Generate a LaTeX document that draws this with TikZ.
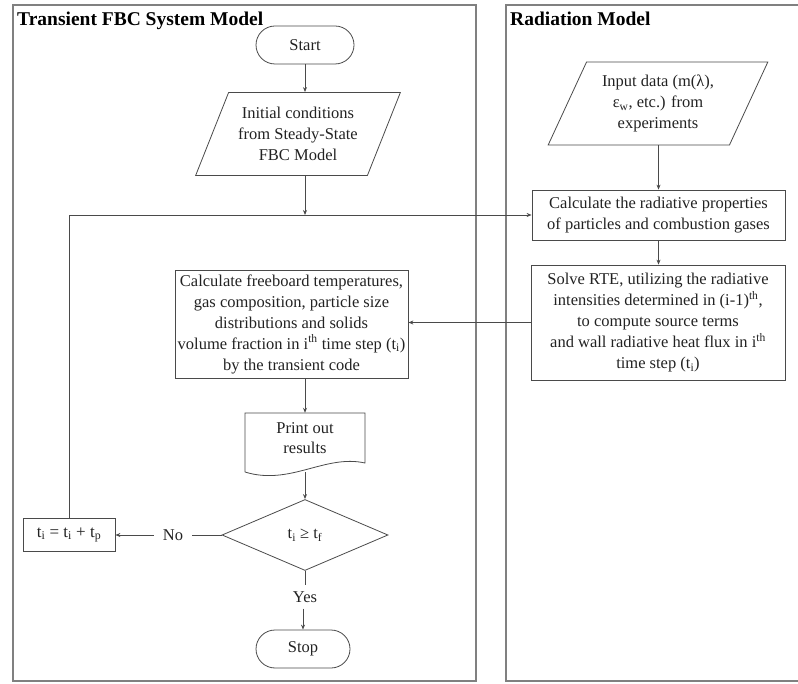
\documentclass[tikz,border=0pt]{standalone}
\usepackage{fontspec}
\setmainfont{Liberation Serif}
\usetikzlibrary{shapes.geometric,shapes.misc,arrows.meta}
\definecolor{ln}{HTML}{4A4A4A}
\definecolor{fr}{HTML}{808080}
\definecolor{tx}{HTML}{222222}
\begin{document}
\begin{tikzpicture}[x=1pt,y=-1pt,
  base/.style={draw=ln,line width=0.8pt,text=tx,align=center,inner sep=2pt,
    font=\fontsize{16.5}{21}\selectfont},
  term/.style={base,rounded rectangle},
  procbox/.style={base,rectangle},
  para/.style={base,trapezium,trapezium left angle=63,trapezium right angle=117,trapezium stretches=true},
  decis/.style={base,diamond},
  lbl/.style={text=tx,font=\fontsize{16.5}{19}\selectfont,inner sep=9pt},
  arr/.style={draw=ln,line width=0.8pt,-{Stealth[length=5pt,width=4pt]}},
  con/.style={draw=ln,line width=0.8pt},
  frame/.style={draw=fr,line width=1.8pt},
  ttl/.style={text=black,font=\fontsize{19.5}{22}\selectfont\bfseries,anchor=base west,inner sep=0pt}]
\useasboundingbox (0,0) rectangle (798,684);
% frames
\draw[frame] (13,5) rectangle (476,681);
\draw[frame] (800,5) -- (506,5) -- (506,681) -- (800,681);
\node[ttl] (t1) at (17,26) {Transient FBC System Model};
\node[ttl] (t2) at (510,26) {Radiation Model};
% left column
\node[term,minimum width=102,minimum height=38] (start) at (305,45) {Start};
\node[para,minimum width=205,minimum height=83] (init) at (298,134) {Initial conditions\\from Steady-State\\FBC Model};
\node[procbox,minimum width=233,minimum height=108] (calcfb) at (291.5,324) {Calculate freeboard temperatures,\\gas composition, particle size\\distributions and solids\\volume fraction in i\textsuperscript{th} time step (t\textsubscript{i})\\by the transient code};
\node[text=tx,align=center,font=\fontsize{16.5}{20}\selectfont,minimum width=120,minimum height=59,inner sep=0pt] (print) at (305,442.5) {Print out\\results\\[-12pt]};
\draw[con] (245,472) -- (245,413) -- (365,413) -- (365,463)
  .. controls (325,454) and (290,486) .. (245,472);
\node[decis,minimum width=166,minimum height=71] (dec) at (305,535) {t\textsubscript{i} ≥ t\textsubscript{f}};
\node[procbox,minimum width=92,minimum height=33,font=\fontsize{17}{20}\selectfont] (tbox) at (69,535) {t\textsubscript{i}\ =\ t\textsubscript{i}\ +\ t\textsubscript{p}};
\node[lbl] (no) at (173,535) {No};
\node[lbl,inner sep=6pt] (yes) at (305,597) {Yes};
\node[term,minimum width=98,minimum height=38] (stop) at (303,649) {Stop};
% right column
\node[para,minimum width=220,minimum height=83] (input) at (658,103.5) {Input data (m(λ),\\ε\textsubscript{w}, etc.) from\\experiments};
\node[procbox,minimum width=253,minimum height=50] (radprop) at (658.5,215) {Calculate the radiative properties\\of particles and combustion gases};
\node[procbox,minimum width=254,minimum height=115] (rte) at (658,322.5) {Solve RTE, utilizing the radiative\\intensities determined in (i-1)\textsuperscript{th},\\to compute source terms\\and wall radiative heat flux in i\textsuperscript{th}\\time step (t\textsubscript{i})};
\coordinate (loop) at (tbox.north |- radprop.west);
% connectors
\draw[arr] (start.south) -- (start.south |- init.north);
\draw[arr] (init.south -| start.south) -- (start.south |- loop);
\draw[con] (tbox.north) -- (loop);
\draw[arr] (loop) -- (radprop.west);
\draw[arr] (input.south -| radprop.north) -- (radprop.north);
\draw[arr] (radprop.south) -- (rte.north -| radprop.south);
\draw[arr] (rte.west) -- (rte.west -| calcfb.east);
\draw[arr] (calcfb.south -| print.north) -- (print.north);
\draw[arr] (print.south) -- (dec.north);
\draw[con] (dec.west) -- (no.east);
\draw[arr] (no.west) -- (tbox.east);
\draw[con] (dec.south) -- (yes.north);
\draw[arr] (yes.south -| stop.north) -- (stop.north);
\end{tikzpicture}
\end{document}
